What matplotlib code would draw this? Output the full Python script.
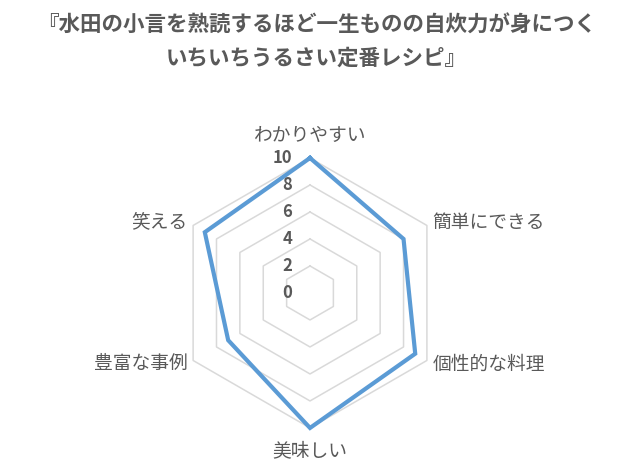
import numpy as np
import matplotlib
matplotlib.use('Agg')
import matplotlib.pyplot as plt
from matplotlib.transforms import offset_copy

plt.rcParams['font.family'] = ['Noto Sans CJK JP', 'DejaVu Sans']

title = '『水田の小言を熟読するほど一生ものの自炊力が身につく\nいちいちうるさい定番レシピ』'
categories = ['わかりやすい', '簡単にできる', '個性的な料理', '美味しい', '豊富な事例', '笑える']
scores = [10, 8, 9, 10, 7, 9]
rings = [2, 4, 6, 8, 10]
tick_values = [0, 2, 4, 6, 8, 10]

text_color = '#595959'
line_color = '#5B9BD5'
grid_color = '#D9D9D9'

fig = plt.figure(figsize=(6.33, 4.69), dpi=100)
ax = fig.add_axes([0.2765, 0.0875, 0.4265, 0.5757], projection='polar')
ax.set_theta_offset(np.pi / 2)
ax.set_theta_direction(-1)
ax.set_ylim(0, 10)
ax.set_axis_off()

angles = np.linspace(0, 2 * np.pi, len(categories), endpoint=False)
closed = np.append(angles, angles[0])

# hexagon rings
for r in rings:
    ax.plot(closed, [r] * len(closed), color=grid_color, lw=1.1, zorder=1, clip_on=False)

# data
vals = scores + scores[:1]
ax.plot(closed, vals, color=line_color, lw=3, zorder=3, clip_on=False, solid_joinstyle='miter')

# value labels on the top axis
trans = offset_copy(ax.transData, fig=fig, x=-0.18, y=0, units='inches')
for v in tick_values:
    ax.text(0, v, str(v), transform=trans, ha='right', va='center', fontsize=12,
            fontweight='bold', color=text_color, zorder=4)

# category labels
label_pos = [
    (11.7, 'center', 'center'),
    (10.5, 'left', 'center'),
    (10.5, 'left', 'center'),
    (11.7, 'center', 'center'),
    (10.5, 'right', 'center'),
    (10.5, 'right', 'center'),
]
for a, name, (r, ha, va) in zip(angles, categories, label_pos):
    ax.text(a, r, name, ha=ha, va=va, fontsize=13.5, color=text_color, clip_on=False)

fig.text(0.5, 1 - 42 / 469, title, ha='center', va='center', fontsize=15.5,
         fontweight='bold', color=text_color, linespacing=1.7)

fig.savefig('out.png', dpi=100)
